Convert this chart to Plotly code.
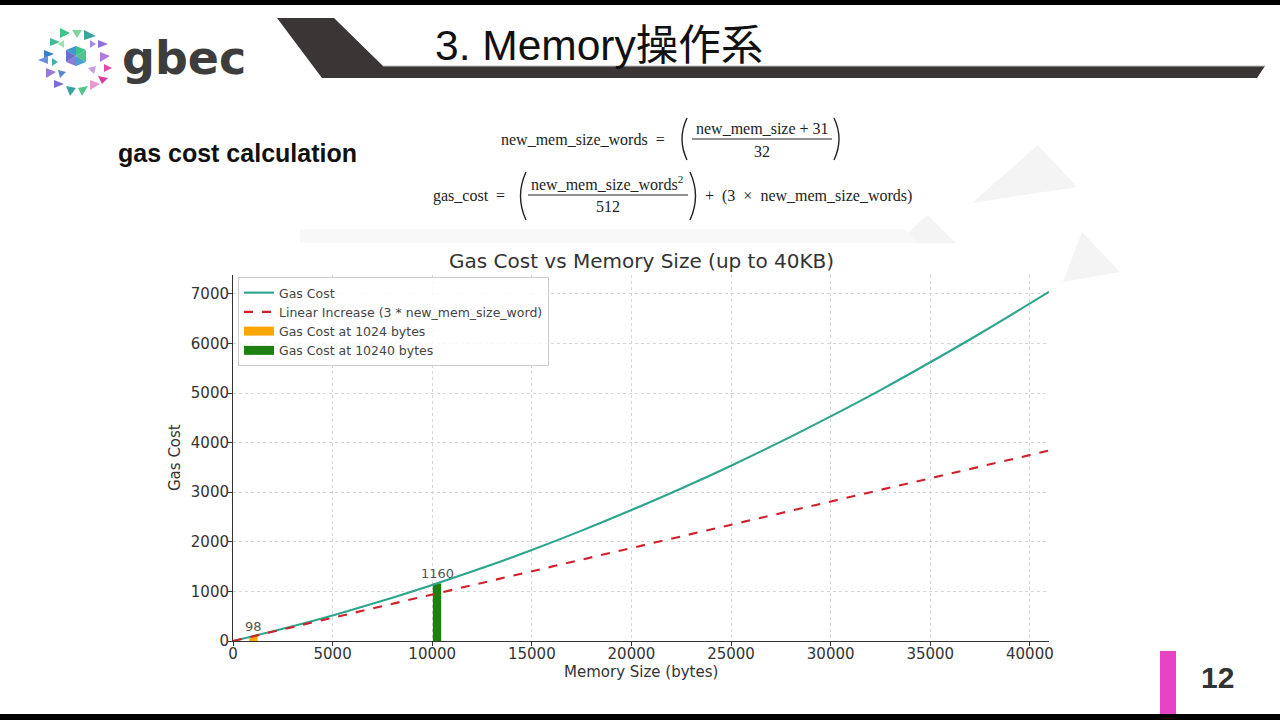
import plotly.graph_objects as go

W, H = 1280, 720

# ---------------- data ----------------
memory_size = [0, 2500, 5000, 7500, 10000, 12500, 15000, 17500, 20000,
               22500, 25000, 27500, 30000, 32500, 35000, 37500, 40960]
gas_cost = [0, 245, 515, 810, 1130, 1470, 1835, 2225, 2640,
            3075, 3535, 4020, 4530, 5060, 5620, 6200, 7040]
linear_x = [0, 10000, 20000, 30000, 40960]
linear_y = [0, 940, 1875, 2810, 3840]
bar_sizes = [1024, 10240]
bar_costs = [98, 1160]
bar_names = ["Gas Cost at 1024 bytes", "Gas Cost at 10240 bytes"]
bar_colors = ["#ffa500", "#1e8012"]
x_ticks = [0, 5000, 10000, 15000, 20000, 25000, 30000, 35000, 40000]
y_ticks = [0, 1000, 2000, 3000, 4000, 5000, 6000, 7000]


def fx(x):
    return x / W


def fy(y):
    return 1 - y / H


def P(x, y):
    return f"{fx(x):.5f},{fy(y):.5f}"


def poly(pts):
    return "M " + " L ".join(P(x, y) for x, y in pts) + " Z"


fig = go.Figure()

fig.add_trace(go.Scatter(x=memory_size, y=gas_cost, mode="lines", name="Gas Cost",
                         line=dict(color="#2ca58d", width=2.1, shape="spline")))
fig.add_trace(go.Scatter(x=linear_x, y=linear_y, mode="lines",
                         name="Linear Increase (3 * new_mem_size_word)",
                         line=dict(color="#d0202a", width=2.1, dash="dash")))
for i, (xs, ys, nm, col) in enumerate(zip(bar_sizes, bar_costs, bar_names, bar_colors)):
    fig.add_trace(go.Bar(x=[xs], y=[ys], name=nm, width=[420], showlegend=False,
                         legendgroup=f"b{i}",
                         marker=dict(color=col, line=dict(width=0))))
# legend proxies (wide rectangles like the reference legend)
for i, (nm, col) in enumerate(zip(bar_names, bar_colors)):
    fig.add_trace(go.Scatter(x=[None], y=[None], mode="lines", name=nm,
                             legendgroup=f"b{i}", line=dict(color=col, width=9)))

shapes = []
annos = []

# slide: black bars top/bottom
shapes.append(dict(type="rect", xref="paper", yref="paper", x0=0, x1=1, y0=fy(5), y1=1,
                   fillcolor="#000", line=dict(width=0), layer="above"))
shapes.append(dict(type="rect", xref="paper", yref="paper", x0=0, x1=1, y0=0, y1=fy(714),
                   fillcolor="#000", line=dict(width=0), layer="above"))

# header dark band
shapes.append(dict(type="path", xref="paper", yref="paper",
                   path=poly([(277, 18), (334, 18), (383, 66), (1265, 66), (1257, 78), (322, 78)]),
                   fillcolor="#3a3636", line=dict(width=0), layer="below"))
shapes.append(dict(type="line", xref="paper", yref="paper", x0=fx(383), x1=fx(1265),
                   y0=fy(66), y1=fy(66), line=dict(color="#bdbdbd", width=1), layer="below"))

# faint background triangles
for tri in [[(1038, 145), (1077, 187), (972, 203)],
            [(927, 215), (956, 243), (898, 243)],
            [(1082, 232), (1120, 272), (1063, 282)]]:
    shapes.append(dict(type="path", xref="paper", yref="paper", path=poly(tri),
                       fillcolor="#f4f4f4", line=dict(width=0), layer="below"))
shapes.append(dict(type="path", xref="paper", yref="paper",
                   path=poly([(300, 229), (905, 229), (918, 243), (300, 243)]),
                   fillcolor="#f8f8f8", line=dict(width=0), layer="below"))

# logo triangles
logo_tris = [
    ([(60, 28), (70, 33), (60, 38)], "#3cc48a"),
    ([(72, 30), (82, 30), (77, 38)], "#7fd89a"),
    ([(84, 30), (96, 36), (84, 40)], "#3aa3a0"),
    ([(50, 38), (60, 42), (50, 46)], "#46b99a"),
    ([(98, 40), (108, 44), (98, 48)], "#8f6fd6"),
    ([(44, 50), (54, 54), (44, 58)], "#3b7dc4"),
    ([(38, 60), (48, 56), (48, 64)], "#6a8fd8"),
    ([(100, 52), (110, 56), (100, 62)], "#b07be0"),
    ([(104, 64), (112, 68), (104, 72)], "#e04ab0"),
    ([(46, 68), (56, 72), (46, 78)], "#9a77d8"),
    ([(54, 80), (64, 84), (54, 88)], "#7c6ad0"),
    ([(66, 86), (76, 88), (70, 96)], "#3aa3a0"),
    ([(78, 88), (88, 86), (82, 96)], "#58c58a"),
    ([(90, 80), (100, 84), (90, 90)], "#e49ad0"),
    ([(98, 76), (108, 78), (102, 84)], "#d23fa0"),
    ([(66, 50), (76, 46), (76, 56)], "#3b9ad0"),
    ([(76, 46), (86, 50), (76, 56)], "#3cc48a"),
    ([(66, 50), (76, 56), (66, 62)], "#6a6fd0"),
    ([(86, 50), (86, 62), (76, 56)], "#56c08c"),
    ([(66, 62), (76, 56), (76, 66)], "#8a7ad8"),
    ([(76, 56), (86, 62), (76, 66)], "#4aa0c8"),
    ([(58, 44), (64, 40), (64, 48)], "#9be0b0"),
    ([(88, 68), (96, 66), (94, 74)], "#c99be6"),
    ([(58, 70), (66, 72), (60, 78)], "#5b86d0"),
    ([(90, 40), (96, 44), (90, 48)], "#a58be0"),
    ([(52, 58), (58, 62), (52, 66)], "#3fb0b8"),
]
for pts, col in logo_tris:
    shapes.append(dict(type="path", xref="paper", yref="paper", path=poly(pts),
                       fillcolor=col, line=dict(width=0), layer="below"))

# pink marker bottom right
shapes.append(dict(type="rect", xref="paper", yref="paper", x0=fx(1160), x1=fx(1176),
                   y0=fy(714), y1=fy(651), fillcolor="#e644c4", line=dict(width=0)))

# formula fraction lines and parentheses
fc = "#222222"
shapes.append(dict(type="line", xref="paper", yref="paper", x0=fx(692), x1=fx(832),
                   y0=fy(139), y1=fy(139), line=dict(color=fc, width=1)))
shapes.append(dict(type="line", xref="paper", yref="paper", x0=fx(528), x1=fx(688),
                   y0=fy(195), y1=fy(195), line=dict(color=fc, width=1)))
for x_end, x_mid, y0, y1 in [(687, 677, 118, 160), (834, 844, 118, 160),
                             (526, 515, 172, 220), (690, 701, 172, 220)]:
    ym = (y0 + y1) / 2
    shapes.append(dict(type="path", xref="paper", yref="paper",
                       path=f"M {P(x_end, y0)} Q {P(x_mid, ym)} {P(x_end, y1)}",
                       line=dict(color=fc, width=1.4)))

serif = "Liberation Serif, DejaVu Serif, serif"
SP = "\u2002"


def txt(x, y, s, size, xa="center", ya="middle", family=None, color="#222", **kw):
    d = dict(xref="paper", yref="paper", x=fx(x), y=fy(y), text=s, showarrow=False,
             xanchor=xa, yanchor=ya, font=dict(size=size, color=color, family=family))
    d.update(kw)
    annos.append(d)


# logo text
txt(120, 58, "<b>gbec</b>", 46, xa="left", family="DejaVu Sans", color="#3d3d3d")
# title
txt(433, 45, "3. Memory操作系", 42.5, xa="left",
    family="Liberation Sans Narrow, Arial Narrow, Liberation Sans, Noto Sans CJK JP",
    color="#111")
# subtitle
txt(116, 153, "<b>gas cost calculation</b>", 25, xa="left", family="Liberation Sans, Arial",
    color="#111")
# formulas
txt(675, 139, "new_mem_size_words" + SP + "=" + SP, 16, xa="right", family=serif)
txt(762, 128, "new_mem_size + 31", 16, family=serif)
txt(762, 151, "32", 16, family=serif)
txt(515, 196, "gas_cost" + SP + "=" + SP, 16, xa="right", family=serif)
txt(607, 183, "new_mem_size_words<sup>2</sup>", 16, family=serif)
txt(608, 207, "512", 16, family=serif)
txt(703, 196, "+" + SP + "(3" + SP + "×" + SP + "new_mem_size_words)", 16, xa="left",
    family=serif)
# page number
txt(1217, 677, "<b>12</b>", 30, family="Liberation Sans, Arial", color="#333")
# chart title and axis titles
txt(641, 261, "Gas Cost vs Memory Size (up to 40KB)", 20, family="DejaVu Sans", color="#333")
txt(641, 672, "Memory Size (bytes)", 15, family="DejaVu Sans", color="#333")
txt(175, 458, "Gas Cost", 15, family="DejaVu Sans", color="#333", textangle=-90)

# bar value labels
for xs, ys in zip(bar_sizes, bar_costs):
    annos.append(dict(x=xs, y=ys, xref="x", yref="y", text=str(ys), showarrow=False,
                      yanchor="bottom", xanchor="center", yshift=0,
                      font=dict(size=13, color="#555", family="DejaVu Sans")))

axis_common = dict(showline=True, linecolor="#333", linewidth=1, ticks="outside",
                   ticklen=4, tickcolor="#333", showgrid=True, gridcolor="#d6d6d6",
                   griddash="dot", gridwidth=1, zeroline=False, automargin=False,
                   tickformat="d",
                   tickfont=dict(size=15, color="#333", family="DejaVu Sans"))

fig.update_layout(
    width=W, height=H, autosize=False,
    margin=dict(l=0, r=0, t=0, b=0, autoexpand=False),
    paper_bgcolor="white", plot_bgcolor="rgba(0,0,0,0)",
    font=dict(family="DejaVu Sans", color="#333"),
    barmode="overlay",
    xaxis=dict(domain=[fx(233), fx(1049)], range=[0, 40960], tickvals=x_ticks,
               ticklabelstandoff=-5, **axis_common),
    yaxis=dict(domain=[fy(641), fy(275)], range=[0, 7380], tickvals=y_ticks,
               ticklabelstandoff=-4, **axis_common),
    legend=dict(x=fx(238), y=fy(277), xanchor="left", yanchor="top",
                bgcolor="rgba(255,255,255,0.85)", bordercolor="#cccccc", borderwidth=1,
                font=dict(size=12.5, color="#444", family="DejaVu Sans"),
                itemwidth=30, tracegroupgap=0),
    shapes=shapes, annotations=annos, showlegend=True,
)

fig.write_html("out.html", config={"displayModeBar": False},
               post_script="document.body.style.margin='0';document.body.style.overflow='hidden';")
